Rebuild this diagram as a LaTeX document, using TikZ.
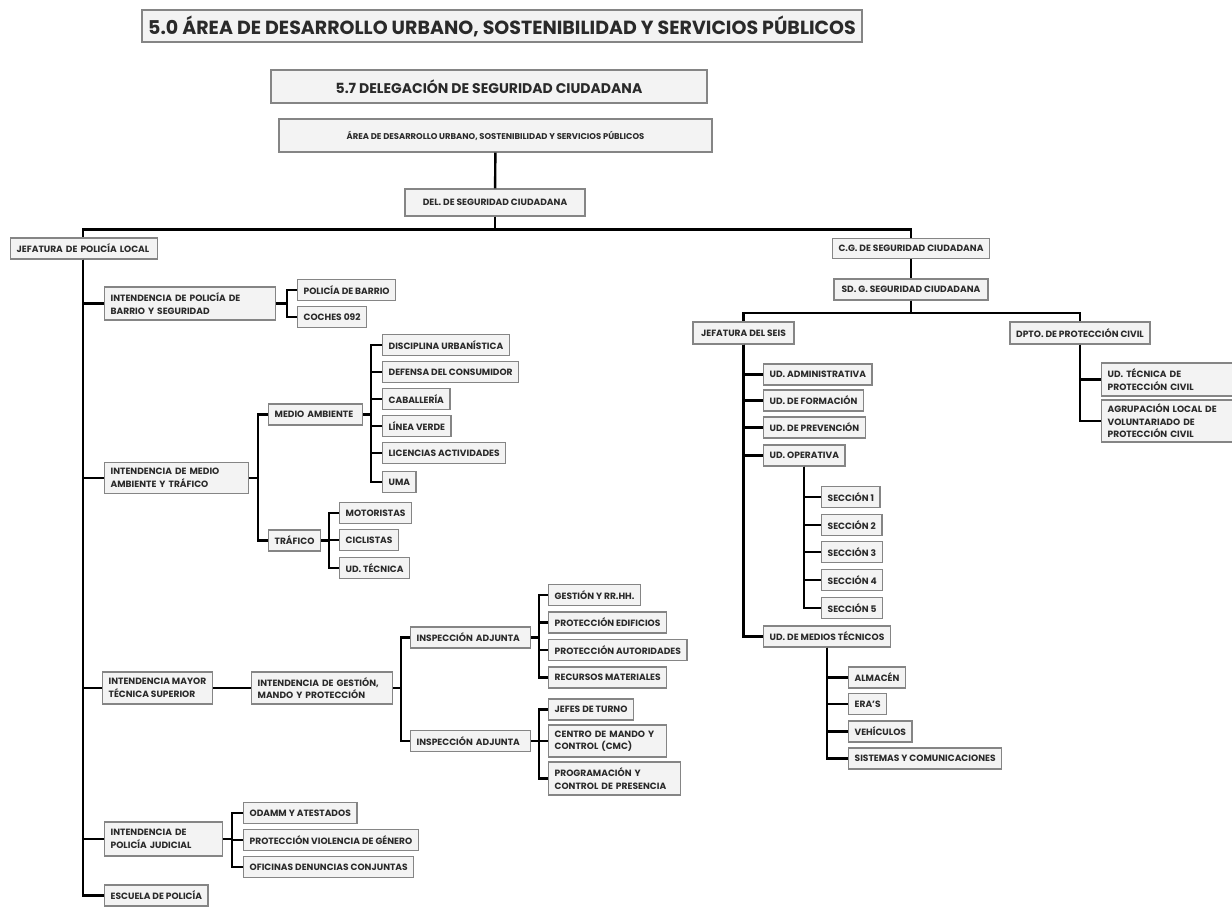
\documentclass[tikz,border=0pt]{standalone}
\usepackage{fontspec}
\setmainfont{Poppins}
\definecolor{boxgray}{HTML}{858585}
\definecolor{boxfill}{HTML}{F3F3F3}
\definecolor{txt}{HTML}{2A2A2A}
\tikzset{
  bx/.style={draw=boxgray, fill=boxfill, line width=1.3pt, text=txt,
    font=\fontsize{9.1}{12.5}\selectfont\bfseries, inner xsep=6pt, inner ysep=0pt,
    minimum height=21pt, align=left, anchor=west},
  bxw/.style={bx, text width=#1},
  bxc/.style={bx, anchor=center, align=center},
  ln/.style={line width=2.4pt, black},
}
\begin{document}
\begin{tikzpicture}[x=1pt,y=-1pt]
\useasboundingbox[fill=white] (0,0) rectangle (1232,907);
% spine positions
\coordinate (xj) at (83,0);
\coordinate (xb) at (287,0);
\coordinate (xm) at (258,0);
\coordinate (xma) at (371,0);
\coordinate (xtr) at (329,0);
\coordinate (xg) at (401,0);
\coordinate (xia) at (539,0);
\coordinate (xpj) at (232,0);
\coordinate (xs) at (743.5,0);
\coordinate (xop) at (804,0);
\coordinate (xmt) at (827,0);
\coordinate (xpc) at (1080,0);
% headers
\node[bxc, minimum width=720, minimum height=32, font=\fontsize{19}{22}\selectfont\bfseries] (title) at (502,26) {5.0 ÁREA DE DESARROLLO URBANO, SOSTENIBILIDAD Y SERVICIOS PÚBLICOS};
\node[bxc, minimum width=436, minimum height=33, font=\fontsize{14}{16}\selectfont\bfseries] (t57) at (489,86.5) {5.7 DELEGACIÓN DE SEGURIDAD CIUDADANA};
\node[bxc, minimum width=433, minimum height=33, font=\fontsize{8.4}{10}\selectfont\bfseries] (area) at (495.5,135.5) {ÁREA DE DESARROLLO URBANO, SOSTENIBILIDAD Y SERVICIOS PÚBLICOS};
\node[bxc, minimum width=180, minimum height=27] (del) at (495,202.5) {DEL. DE SEGURIDAD CIUDADANA};
% left branch
\node[bxw=135] (jpl) at (10,248.5) {JEFATURA DE POLICÍA LOCAL};
\node[bxw=159, minimum height=33] (ibs) at (104,303.5) {INTENDENCIA DE POLICÍA DE\\BARRIO Y SEGURIDAD};
\node[bx] (pb) at (297,290) {POLICÍA DE BARRIO};
\node[bx] (c92) at (297,317) {COCHES 092};
\node[bxw=132, minimum height=31] (ima) at (104,478) {INTENDENCIA DE MEDIO\\AMBIENTE Y TRÁFICO};
\node[bxw=82] (ma) at (268,414.5) {MEDIO AMBIENTE};
\node[bx] (tr) at (268,540.5) {TRÁFICO};
\node[bx] (du) at (382,345) {DISCIPLINA URBANÍSTICA};
\node[bx] (dc) at (382,372) {DEFENSA DEL CONSUMIDOR};
\node[bx] (cab) at (382,399) {CABALLERÍA};
\node[bx] (lv) at (382,426) {LÍNEA VERDE};
\node[bx] (lic) at (382,453) {LICENCIAS ACTIVIDADES};
\node[bx] (uma) at (382,482) {UMA};
\node[bx] (mot) at (339,513) {MOTORISTAS};
\node[bx] (cic) at (339,540) {CICLISTAS};
\node[bx] (udt) at (339,568) {UD. TÉCNICA};
\node[bx, minimum height=32] (imt) at (102,688) {INTENDENCIA MAYOR\\TÉCNICA SUPERIOR};
\node[bxw=129, minimum height=32] (ig) at (251,688) {INTENDENCIA DE GESTIÓN,\\MANDO Y PROTECCIÓN};
\node[bxw=108] (ia1) at (410,637.5) {INSPECCIÓN ADJUNTA};
\node[bxw=108] (ia2) at (410,741) {INSPECCIÓN ADJUNTA};
\node[bx] (grh) at (548,595) {GESTIÓN Y RR.HH.};
\node[bx] (pe) at (548,622.5) {PROTECCIÓN EDIFICIOS};
\node[bx] (pa) at (548,650) {PROTECCIÓN AUTORIDADES};
\node[bx] (rm) at (548,677.5) {RECURSOS MATERIALES};
\node[bx] (jt) at (548,709.5) {JEFES DE TURNO};
\node[bxw=106, minimum height=32] (cmc) at (548,741) {CENTRO DE MANDO Y\\CONTROL (CMC)};
\node[bxw=120, minimum height=33] (prog) at (548,778.5) {PROGRAMACIÓN Y\\CONTROL DE PRESENCIA};
\node[bxw=106, minimum height=34] (ipj) at (104,839) {INTENDENCIA DE\\POLICÍA JUDICIAL};
\node[bx] (od) at (243,813) {ODAMM Y ATESTADOS};
\node[bx] (pvg) at (243,840) {PROTECCIÓN VIOLENCIA DE GÉNERO};
\node[bx] (odc) at (243,867) {OFICINAS DENUNCIAS CONJUNTAS};
\node[bx] (esc) at (104,895.5) {ESCUELA DE POLICÍA};
% right branch
\node[bxc, minimum width=155, minimum height=20] (cg) at (911,248.5) {C.G. DE SEGURIDAD CIUDADANA};
\node[bxc, minimum width=154, minimum height=21] (sd) at (911,289.5) {SD. G. SEGURIDAD CIUDADANA};
\node[bxc, minimum width=101, minimum height=22] (seis) at (743.5,333) {JEFATURA DEL SEIS};
\node[bxc, minimum width=140, minimum height=22] (dpto) at (1080,333) {DPTO. DE PROTECCIÓN CIVIL};
\node[bx] (uadm) at (763,374.5) {UD. ADMINISTRATIVA};
\node[bx] (ufor) at (763,400.5) {UD. DE FORMACIÓN};
\node[bx] (uprev) at (763,427.5) {UD. DE PREVENCIÓN};
\node[bx] (uop) at (763,455.5) {UD. OPERATIVA};
\node[bx] (s1) at (821,497) {SECCIÓN 1};
\node[bx] (s2) at (821,525) {SECCIÓN 2};
\node[bx] (s3) at (821,552) {SECCIÓN 3};
\node[bx] (s4) at (821,580) {SECCIÓN 4};
\node[bx] (s5) at (821,608) {SECCIÓN 5};
\node[bx] (umt) at (763,636.5) {UD. DE MEDIOS TÉCNICOS};
\node[bx] (alm) at (848,677.5) {ALMACÉN};
\node[bx] (era) at (848,704) {ERA'S};
\node[bx] (veh) at (848,731.5) {VEHÍCULOS};
\node[bx] (sis) at (848,758.5) {SISTEMAS Y COMUNICACIONES};
\node[bxw=122, minimum height=33] (utpc) at (1101,379.5) {UD. TÉCNICA DE\\PROTECCIÓN CIVIL};
\node[bxw=122, minimum height=42] (agr) at (1101,421) {AGRUPACIÓN LOCAL DE\\VOLUNTARIADO DE\\PROTECCIÓN CIVIL};
% connectors
\draw[ln] (area) -- (del);
\draw[ln] (del.south) -- ++(0,13) -| (jpl.north -| xj);
\draw[ln] (del.south) -- ++(0,13) -| (cg.north);
\foreach \c in {ibs,ima,imt,ipj,esc} \draw[ln] (jpl.south -| xj) |- (\c.west);
\foreach \c in {pb,c92} \draw[ln] (ibs.east) -- (ibs.east -| xb) |- (\c.west);
\foreach \c in {ma,tr} \draw[ln] (ima.east) -- (ima.east -| xm) |- (\c.west);
\foreach \c in {du,dc,cab,lv,lic,uma} \draw[ln] (ma.east) -- (ma.east -| xma) |- (\c.west);
\foreach \c in {mot,cic,udt} \draw[ln] (tr.east) -- (tr.east -| xtr) |- (\c.west);
\draw[ln] (imt) -- (ig);
\foreach \c in {ia1,ia2} \draw[ln] (ig.east) -- (ig.east -| xg) |- (\c.west);
\foreach \c in {grh,pe,pa,rm} \draw[ln] (ia1.east) -- (ia1.east -| xia) |- (\c.west);
\foreach \c in {jt,cmc,prog} \draw[ln] (ia2.east) -- (ia2.east -| xia) |- (\c.west);
\foreach \c in {od,pvg,odc} \draw[ln] (ipj.east) -- (ipj.east -| xpj) |- (\c.west);
\draw[ln] (cg) -- (sd);
\draw[ln] (sd.south) -- ++(0,12.5) -| (seis.north);
\draw[ln] (sd.south) -- ++(0,12.5) -| (dpto.north);
\foreach \c in {uadm,ufor,uprev,uop,umt} \draw[ln] (seis.south -| xs) |- (\c.west);
\foreach \c in {s1,s2,s3,s4,s5} \draw[ln] (uop.south -| xop) |- (\c.west);
\foreach \c in {alm,era,veh,sis} \draw[ln] (umt.south -| xmt) |- (\c.west);
\foreach \c in {utpc,agr} \draw[ln] (dpto.south -| xpc) |- (\c.west);
\end{tikzpicture}
\end{document}
